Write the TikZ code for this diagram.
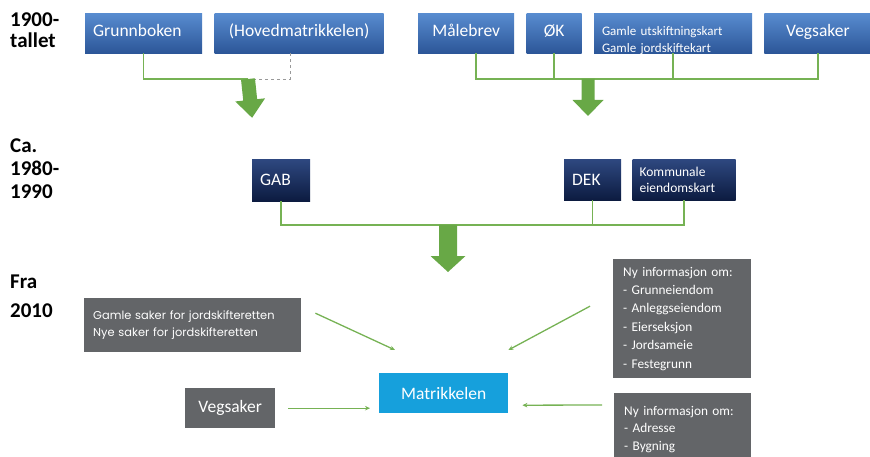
\documentclass[tikz,border=0pt]{standalone}
\usepackage{fontspec}
\setmainfont{Carlito}
\newfontfamily\popfont{Poppins}
\usepackage{tikz}
\usetikzlibrary{arrows.meta,positioning}
\usepackage{xcolor}
\definecolor{oldtop}{RGB}{88,140,208}
\definecolor{oldbot}{RGB}{44,86,152}
\definecolor{midtop}{RGB}{46,72,128}
\definecolor{midbot}{RGB}{12,27,64}
\definecolor{slate}{RGB}{99,101,104}
\definecolor{matrblue}{RGB}{22,160,220}
\definecolor{leafgreen}{RGB}{118,178,84}
\definecolor{arrowgreen}{RGB}{104,168,70}
\newcommand{\fatarrow}[6][]{%
  \fill[arrowgreen,shift={(#2)},#1] (-#3,0) -- (#3,0) -- (#3,#5) -- (#4,#5) -- (0,#6) -- (-#4,#5) -- (-#3,#5) -- cycle;}

\begin{document}
\begin{tikzpicture}[x=1pt,y=-1pt,>=Stealth]
\tikzstyle{yearlbl}=[anchor=north west,inner sep=0pt,align=left]
\tikzstyle{oldbox}=[top color=oldtop,bottom color=oldbot,text=white,anchor=north west,minimum height=40pt,inner xsep=8pt,text height=12pt,text depth=5pt,font=\fontsize{17.5}{21}\selectfont]
\tikzstyle{midbox}=[top color=midtop,bottom color=midbot,text=white,anchor=north west,minimum height=41pt,inner xsep=8pt,font=\fontsize{17.5}{21}\selectfont]
\tikzstyle{graybox}=[fill=slate,text=white,anchor=north west,inner xsep=10pt,align=left,font=\fontsize{13.3}{18.4}\selectfont]
\tikzstyle{feedline}=[draw=leafgreen,line width=1.5pt]
\tikzstyle{inarrow}=[-{Stealth[length=5pt,width=4.5pt]},draw=leafgreen,line width=1.3pt]
\useasboundingbox (0,0) rectangle (870,457);

% periods
\node[yearlbl,font=\fontsize{21}{21}\selectfont\bfseries] (y1900) at (10,13) {1900-\\tallet};
\node[yearlbl,font=\fontsize{21}{23}\selectfont\bfseries] (y1980) at (10,139) {Ca.\\1980-\\1990};
\node[yearlbl,font=\fontsize{21}{29}\selectfont\bfseries] (y2010) at (10,275) {Fra\\2010};

% 1900-tallet
\node[oldbox,text width=101pt,align=left] (grunn) at (85,13) {Grunnboken};
\node[oldbox,minimum width=169pt,right=12pt of grunn] (hoved) {(Hovedmatrikkelen)};
\node[oldbox,minimum width=96pt] (maale) at (418,13) {Målebrev};
\node[oldbox,minimum width=55pt,right=12pt of maale] (ok) {ØK};
\node[oldbox,text width=142pt,align=left,text height=9pt,text depth=4pt,font=\fontsize{13}{17}\selectfont,right=12pt of ok] (gamle) {Gamle utskiftningskart\\Gamle jordskiftekart};
\node[oldbox,minimum width=107pt,right=12pt of gamle] (vegold) {Vegsaker};

% ca. 1980-1990
\node[midbox,text width=42pt,align=left,minimum height=42pt] (gab) at (252,159) {GAB};
\node[midbox,text width=41pt,align=left] (dek) at (564,159) {DEK};
\node[midbox,text width=89pt,align=left,inner xsep=7pt,font=\fontsize{13.5}{16}\selectfont,right=11pt of dek] (kom) {Kommunale\\eiendomskart};

% fra 2010
\node[graybox,text width=199pt,inner xsep=9pt,minimum height=54pt,font=\popfont\fontsize{11.4}{16.5}\selectfont] (saker) at (84,298) {Gamle saker for jordskifteretten\\Nye saker for jordskifteretten};
\node[graybox,minimum width=90pt,minimum height=40pt,align=center,font=\fontsize{17.5}{21}\selectfont] (vegnew) at (185,388) {Vegsaker};
\node[fill=matrblue,text=white,anchor=north west,minimum width=129pt,minimum height=40pt,font=\fontsize{17.5}{21}\selectfont] (matr) at (379,373) {Matrikkelen};
\node[graybox,text width=118pt,minimum height=119pt] (nyeiendom) at (613,259) {Ny informasjon om:\\- Grunneiendom\\- Anleggseiendom\\- Eierseksjon\\- Jordsameie\\- Festegrunn};
\node[graybox,text width=117pt,minimum height=72pt,font=\fontsize{13.3}{17.5}\selectfont] (nyadresse) at (614,393) {Ny informasjon om:\\- Adresse\\- Bygning};

% brackets and big arrows
\coordinate (j1) at (248,79);
\coordinate (j2) at (588,79);
\coordinate (j3) at (448,225);
\draw[feedline] (grunn.south) |- (j1);
\draw[black!40,dashed,line width=0.8pt] ([xshift=-9pt]hoved.south) |- (j1);
\draw[feedline] ([xshift=10pt]maale.south) |- (vegold.south |- j2) -- (vegold.south);
\draw[feedline] (ok.south) -- (ok.south |- j2);
\draw[feedline] (gamle.south) -- (gamle.south |- j2);
\draw[feedline] (gab.south) |- (kom.south |- j3) -- (kom.south);
\draw[feedline] (dek.south) -- (dek.south |- j3);
\fatarrow[rotate=6]{j1}{7}{15}{21}{39}
\fatarrow{j2}{6.5}{15.5}{21}{37}
\fatarrow{j3}{9}{17.5}{31}{47}

% inputs to Matrikkelen
\draw[inarrow] ([xshift=14pt,yshift=12pt]saker.east) -- ([xshift=16pt,yshift=23pt]matr.north west);
\draw[inarrow] ([xshift=-23pt,yshift=12.5pt]nyeiendom.west) -- ([yshift=23pt]matr.north east);
\draw[inarrow] ([xshift=13pt]vegnew.east) -- ([xshift=-9pt,yshift=-15pt]matr.west);
\draw[inarrow] ([xshift=-12pt,yshift=-12pt]nyadresse.north west) -- ([xshift=14pt,yshift=-12pt]matr.east);
\end{tikzpicture}
\end{document}
